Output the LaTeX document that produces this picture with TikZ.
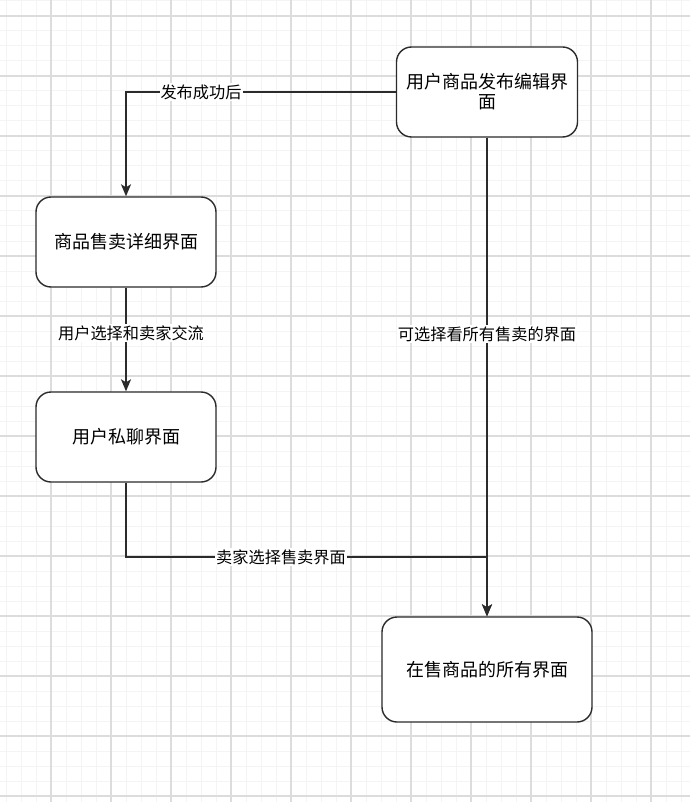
\documentclass[tikz,border=0pt]{standalone}
\usepackage{fontspec}
\newfontfamily\cjk{Noto Sans CJK SC}
\usetikzlibrary{arrows.meta}
\definecolor{gridminor}{HTML}{F4F4F4}
\definecolor{gridmajor}{HTML}{DCDCDC}
\definecolor{ink}{HTML}{2B2B2B}
\begin{document}
\begin{tikzpicture}[x=1pt,y=-1pt,
  box/.style={draw=ink, line width=1.4pt, rounded corners=15pt, fill=white, inner sep=0pt,
    font=\cjk\fontsize{18}{20}\selectfont, align=center, text=black},
  conn/.style={draw=ink, line width=1.4pt},
  arr/.style={conn, -{Stealth[length=12pt,width=10pt,inset=3pt]}},
  lbl/.style={fill=white, inner sep=1pt, font=\cjk\fontsize{16.2}{18}\selectfont, text=black},
  minorline/.style={draw=gridminor, line width=1pt},
  majorline/.style={draw=gridmajor, line width=1.1pt}]
\useasboundingbox (0,0) rectangle (690,802);
\fill[white] (0,0) rectangle (690,802);
% grid
\foreach \x in {6,21,...,690} \draw[minorline] (\x,0) -- (\x,802);
\foreach \y in {1,16,...,802} \draw[minorline] (0,\y) -- (690,\y);
\foreach \x in {51,111,...,690} \draw[majorline] (\x,0) -- (\x,802);
\foreach \y in {16,76,...,802} \draw[majorline] (0,\y) -- (690,\y);
% boxes
\node[box, minimum width=181pt, minimum height=90pt] (A) at (487,92) {用户商品发布编辑界\\面};
\node[box, minimum width=180pt, minimum height=90pt] (B) at (126,242) {商品售卖详细界面};
\node[box, minimum width=180pt, minimum height=90pt] (C) at (126,437) {用户私聊界面};
\node[box, minimum width=210pt, minimum height=105pt] (D) at (487,669.5) {在售商品的所有界面};
% connectors
\coordinate (J) at (487,557);
\draw[arr] (A.west) -| (B.north);
\draw[arr] (B.south) -- (C.north);
\draw[arr] (A.south) -- (D.north);
\draw[arr] (C.south) |- (J) -- (D.north);
% labels
\node[lbl] (L1) at (201,92) {发布成功后};
\node[lbl] (L2) at (131,333) {用户选择和卖家交流};
\node[lbl] (L3) at (487,334) {可选择看所有售卖的界面};
\node[lbl] (L4) at (281,557) {卖家选择售卖界面};
\end{tikzpicture}
\end{document}
